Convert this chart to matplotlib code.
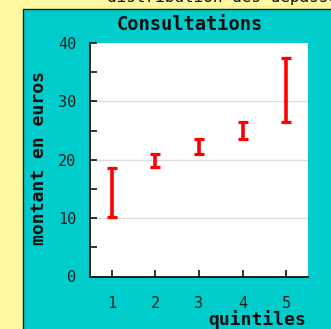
import matplotlib.pyplot as plt
from matplotlib.patches import Rectangle
from matplotlib.ticker import MultipleLocator

# quintiles and the low/high bounds of each range (euros)
quintiles = [1, 2, 3, 4, 5]
low = [10.2, 18.8, 21.0, 23.5, 26.4]
high = [18.6, 20.9, 23.5, 26.4, 37.4]

mid = [(l + h) / 2 for l, h in zip(low, high)]
half = [(h - l) / 2 for l, h in zip(low, high)]

mono = 'DejaVu Sans Mono'

fig = plt.figure(figsize=(3.31, 3.29), dpi=100)
fig.patch.set_facecolor('#fff8a0')
fig.patches.append(Rectangle((23/331, -0.01), 1, 1 - 9/329 + 0.01, transform=fig.transFigure,
                             facecolor='#00cccc', edgecolor='#202020', lw=1, zorder=-5))
fig.text(107/331, 1 - 2/329, 'distribution des dépassements', family=mono, fontsize=11.5,
         va='baseline', ha='left', color='#101010')

ax = fig.add_axes([90/331, 52.5/329, 218/331, 233.5/329])
ax.set_facecolor('white')
ax.errorbar(quintiles, mid, yerr=half, fmt='none', ecolor='#ff0000', elinewidth=2.6,
            capsize=3.3, capthick=2.3, zorder=3)

ax.set_xlim(0.5, 5.5)
ax.set_ylim(0, 40)
ax.set_xticks(quintiles)
ax.set_yticks([0, 10, 20, 30, 40])
ax.yaxis.set_minor_locator(MultipleLocator(5))
for y in [10, 20, 30]:
    ax.axhline(y, color='#dddddd', lw=1, zorder=1)

ax.spines['top'].set_visible(False)
ax.spines['right'].set_visible(False)
ax.spines['left'].set_color('#101010')
ax.spines['bottom'].set_color('#101010')
ax.spines['left'].set_linewidth(1.3)
ax.spines['bottom'].set_linewidth(1.3)
ax.tick_params(axis='both', which='major', direction='in', length=5, width=1.2,
               color='#101010', labelsize=11, labelcolor='#202020')
ax.tick_params(axis='y', which='minor', direction='in', length=5, width=1.2, color='#101010')
ax.tick_params(axis='x', pad=14)
ax.tick_params(axis='y', pad=10)
for lab in ax.get_xticklabels() + ax.get_yticklabels():
    lab.set_family(mono)

fig.text(190/331, 1 - 25/329, 'Consultations', family=mono, fontweight='bold', fontsize=13.5,
         ha='center', va='center', color='#101010')
fig.text(39/331, 1 - 158/329, 'montant en euros', family=mono, fontweight='bold', fontsize=13,
         ha='center', va='center', rotation=90, color='#101010')
fig.text(306/331, 1 - 320/329, 'quintiles', family=mono, fontweight='bold', fontsize=13,
         ha='right', va='center', color='#101010')

fig.savefig('out.png', dpi=100)
